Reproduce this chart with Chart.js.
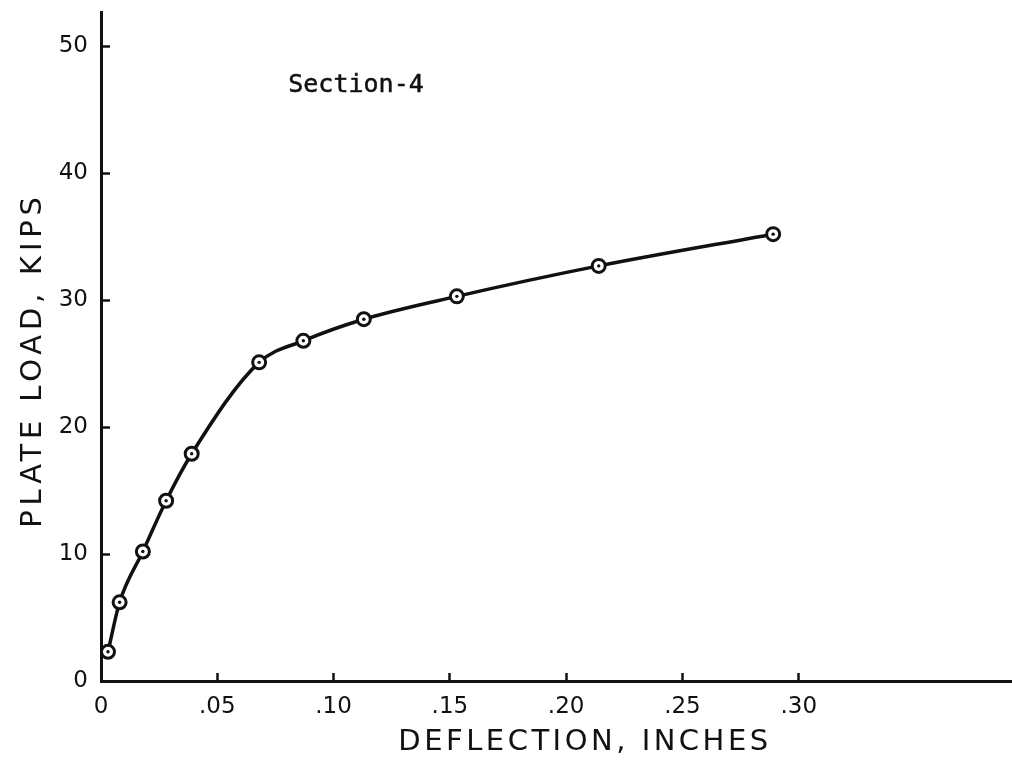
<!DOCTYPE html>
<html>
<head>
<meta charset="utf-8">
<script src="https://cdn.jsdelivr.net/npm/chart.js@4.4.1/dist/chart.umd.min.js"></script>
<style>
html,body{margin:0;padding:0;background:#fff;}
#wrap{width:1012px;height:776px;position:relative;}
</style>
</head>
<body>
<div id="wrap"><canvas id="c"></canvas></div>
<script>
// ---- data ----
const deflection = [0.003, 0.008, 0.018, 0.028, 0.039, 0.068, 0.087, 0.113, 0.153, 0.214, 0.289];
const plateLoad  = [2.3, 6.2, 10.2, 14.2, 17.9, 25.1, 26.8, 28.5, 30.3, 32.7, 35.2];
const xTickValues = [0, 0.05, 0.10, 0.15, 0.20, 0.25, 0.30];
const xTickLabels = ['0', '.05', '.10', '.15', '.20', '.25', '.30'];
const yTickValues = [0, 10, 20, 30, 40, 50];
const yTickLabels = ['0', '10', '20', '30', '40', '50'];
const sectionLabel = 'Section-4';
const xTitle = 'DEFLECTION, INCHES';
const yTitle = 'PLATE LOAD, KIPS';

const INK = '#111';
const points = deflection.map((x, i) => ({x: x, y: plateLoad[i]}));

const textPlugin = {
  id: 'freeText',
  afterDraw(chart, args, opts) {
    const ctx = chart.ctx;
    (opts.items || []).forEach(it => {
      ctx.save();
      ctx.fillStyle = INK;
      ctx.strokeStyle = INK;
      ctx.textAlign = 'center';
      ctx.textBaseline = 'middle';
      ctx.font = it.font;
      if ('letterSpacing' in ctx) ctx.letterSpacing = (it.spacing || 0) + 'px';
      ctx.translate(it.x, it.y);
      if (it.rotate) ctx.rotate(it.rotate);
      ctx.fillText(it.text, 0, 0);
      if (it.stroke) { ctx.lineWidth = it.stroke; ctx.strokeText(it.text, 0, 0); }
      ctx.restore();
    });
  }
};

new Chart(document.getElementById('c'), {
  type: 'scatter',
  data: {
    datasets: [
      {
        label: 'Section-4',
        data: points,
        showLine: true,
        cubicInterpolationMode: 'monotone',
        borderColor: INK,
        borderWidth: 3.5,
        pointRadius: 6.5,
        pointBorderWidth: 3,
        pointBackgroundColor: '#fff',
        pointBorderColor: INK,
        clip: false,
        order: 1
      },
      {
        label: 'centres',
        data: points,
        showLine: false,
        pointRadius: 1.7,
        pointBorderWidth: 0,
        pointBackgroundColor: INK,
        pointBorderColor: INK,
        clip: false,
        order: 0
      }
    ]
  },
  options: {
    responsive: true,
    maintainAspectRatio: false,
    animation: false,
    layout: {autoPadding: false, padding: {top: 12, right: 0, left: 0, bottom: 0}},
    plugins: {
      legend: {display: false},
      tooltip: {enabled: false},
      freeText: {
        items: [
          {text: sectionLabel, x: 356, y: 85, font: '25px "DejaVu Sans Mono"', stroke: 0.5},
          {text: xTitle, x: 585, y: 742, font: '29px "DejaVu Sans"', spacing: 3.5},
          {text: yTitle, x: 33, y: 360, font: '29px "DejaVu Sans"', spacing: 4.8, rotate: -Math.PI / 2}
        ]
      }
    },
    scales: {
      x: {
        type: 'linear',
        min: 0,
        max: 0.3917,
        afterBuildTicks: s => { s.ticks = xTickValues.map(v => ({value: v})); },
        afterFit: s => { s.height = 95; s.paddingLeft = 0; s.paddingRight = 0; },
        border: {display: true, color: INK, width: 3},
        grid: {drawOnChartArea: false, drawTicks: true, tickLength: -8, tickWidth: 2.5, tickColor: INK},
        ticks: {
          callback: (v, i) => xTickLabels[i],
          font: {family: 'DejaVu Sans', size: 23},
          color: INK,
          padding: 20,
          maxRotation: 0,
          autoSkip: false
        }
      },
      y: {
        type: 'linear',
        min: 0,
        max: 52.7,
        afterBuildTicks: s => { s.ticks = yTickValues.map(v => ({value: v})); },
        afterFit: s => { s.width = 101; s.paddingTop = 0; s.paddingBottom = 0; },
        border: {display: true, color: INK, width: 3},
        grid: {drawOnChartArea: false, drawTicks: true, tickLength: -9, tickWidth: 2.5, tickColor: INK},
        ticks: {
          callback: (v, i) => yTickLabels[i],
          font: {family: 'DejaVu Sans', size: 23},
          color: INK,
          padding: 22,
          autoSkip: false
        }
      }
    }
  },
  plugins: [textPlugin]
});
</script>
</body>
</html>
